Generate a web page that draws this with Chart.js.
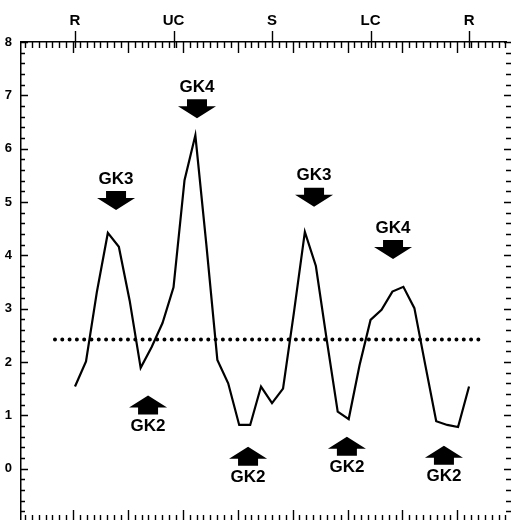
<!DOCTYPE html>
<html>
<head>
<meta charset="utf-8">
<script src="https://cdn.jsdelivr.net/npm/chart.js@4.4.0/dist/chart.umd.min.js"></script>
<style>
  html, body { margin: 0; padding: 0; background: #fff; overflow: hidden; }
  #wrap { width: 512px; height: 526px; }
</style>
</head>
<body>
<div id="wrap"><canvas id="chart" width="512" height="526"></canvas></div>
<script>
// sample times (hours after R) and measured values
const hours = [0, 0.67, 1.33, 2, 2.67, 3.33, 4, 4.67, 5.33, 6, 6.67, 7.33, 8, 8.67, 9.33, 10, 10.67, 11.33, 12,
  12.67, 13.33, 14, 14.67, 15.33, 16, 16.67, 17.33, 18, 18.67, 19.33, 20, 20.67, 21.33, 22, 22.67, 23.33, 24];
const signal = [1.54, 2.01, 3.31, 4.42, 4.16, 3.15, 1.89, 2.28, 2.73, 3.40, 5.41, 6.25, 4.20, 2.04, 1.60, 0.82, 0.82, 1.54, 1.23,
  1.50, 2.92, 4.44, 3.80, 2.42, 1.07, 0.93, 1.94, 2.79, 2.98, 3.32, 3.41, 3.01, 1.95, 0.89, 0.82, 0.78, 1.54];

// dotted mean level
const meanLevel = 2.42;
const meanSpan = [-1.22, 24.6];

// phase labels along the top
const phaseHours = [0, 6, 12, 18, 24];
const phaseLabels = ['R', 'UC', 'S', 'LC', 'R'];

// y tick labels
const yLabels = [0, 1, 2, 3, 4, 5, 6, 7, 8];

// arrow markers: label, hour, value at arrow tip, pointing down?
const markLabels = ['GK3', 'GK4', 'GK3', 'GK4', 'GK2', 'GK2', 'GK2', 'GK2'];
const markHours = [2.5, 7.43, 14.56, 19.37, 4.45, 10.54, 16.56, 22.47];
const markValues = [4.85, 6.57, 4.91, 3.93, 1.37, 0.41, 0.60, 0.43];
const markDown = [true, true, true, true, false, false, false, false];

const FONT = '"Liberation Sans", Arial, sans-serif';

// inward tick marks, phase ticks and arrow markers
const decor = {
  id: 'decor',
  afterDraw(chart) {
    const { ctx, chartArea: a, scales: { x, y } } = chart;
    ctx.save();
    ctx.strokeStyle = '#000';
    ctx.lineWidth = 1.4;
    ctx.beginPath();
    // y ticks every 0.2, longer on integers
    for (let k = -5; k <= 40; k++) {
      const py = Math.round(y.getPixelForValue(k / 5)) + 0.5;
      const major = k % 5 === 0;
      ctx.moveTo(a.left, py); ctx.lineTo(a.left + (major ? 7 : 4), py);
      ctx.moveTo(a.right - (major ? 2 : 0), py); ctx.lineTo(a.right + 5, py);
    }
    // x ticks: minor every 0.418 h, long every 8th
    const step = 0.418, anchor = -0.122;
    for (let k = -8; k <= 72; k++) {
      const v = anchor + k * step;
      if (v < x.min || v > x.max) continue;
      const px = Math.round(x.getPixelForValue(v)) + 0.5;
      const long = k % 8 === 0;
      ctx.moveTo(px, a.top); ctx.lineTo(px, a.top + (long ? 11 : 6));
      ctx.moveTo(px, a.bottom); ctx.lineTo(px, a.bottom - (long ? 12 : 7));
    }
    // phase ticks through the top axis
    phaseHours.forEach(h => {
      const px = Math.round(x.getPixelForValue(h)) + 0.5;
      ctx.moveTo(px, a.top - 11); ctx.lineTo(px, a.top + 6);
    });
    ctx.stroke();

    // arrows
    ctx.fillStyle = '#000';
    ctx.font = 'bold 17px ' + FONT;
    ctx.textAlign = 'center';
    ctx.textBaseline = 'middle';
    markLabels.forEach((lab, i) => {
      const px = x.getPixelForValue(markHours[i]);
      const py = y.getPixelForValue(markValues[i]);
      const s = markDown[i] ? -1 : 1;
      ctx.beginPath();
      ctx.moveTo(px, py);
      ctx.lineTo(px - 19, py + s * 12);
      ctx.lineTo(px - 10, py + s * 12);
      ctx.lineTo(px - 10, py + s * 19);
      ctx.lineTo(px + 10, py + s * 19);
      ctx.lineTo(px + 10, py + s * 12);
      ctx.lineTo(px + 19, py + s * 12);
      ctx.closePath();
      ctx.fill();
      ctx.fillText(lab, px, py + s * 31);
    });
    ctx.restore();
  }
};

new Chart(document.getElementById('chart'), {
  type: 'line',
  data: {
    datasets: [{
      data: hours.map((h, i) => ({ x: h, y: signal[i] })),
      borderColor: '#000',
      borderWidth: 2.2,
      pointRadius: 0,
      tension: 0,
      fill: false
    }, {
      data: meanSpan.map(h => ({ x: h, y: meanLevel })),
      borderColor: '#000',
      borderWidth: 4,
      borderDash: [0, 7.3],
      borderCapStyle: 'round',
      pointRadius: 0,
      fill: false
    }]
  },
  options: {
    responsive: false,
    animation: false,
    layout: { padding: { left: 0, right: 6, top: 0, bottom: 4 } },
    plugins: { legend: { display: false }, tooltip: { enabled: false } },
    scales: {
      x: { type: 'linear', min: -3.289, max: 26.25, display: false },
      x2: {
        type: 'linear', position: 'top', min: -3.289, max: 26.25,
        afterFit: s => { s.height = 42; },
        afterBuildTicks: s => { s.ticks = phaseHours.map(v => ({ value: v })); },
        ticks: {
          autoSkip: false, maxRotation: 0, padding: 12, color: '#000',
          font: { family: FONT, size: 15, weight: 'bold' },
          callback: (v, i) => phaseLabels[i]
        },
        grid: { display: false, drawTicks: false },
        border: { display: true, color: '#000', width: 1.5 }
      },
      y: {
        min: -1, max: 8,
        afterFit: s => { s.width = 21; s.paddingBottom = 0; s.paddingTop = 0; },
        afterBuildTicks: s => { s.ticks = yLabels.map(v => ({ value: v })); },
        ticks: {
          autoSkip: false, padding: 9, color: '#000',
          font: { family: FONT, size: 13, weight: 'bold' }
        },
        grid: { display: false, drawTicks: false },
        border: { display: true, color: '#000', width: 1.5 }
      }
    }
  },
  plugins: [decor]
});
</script>
</body>
</html>
